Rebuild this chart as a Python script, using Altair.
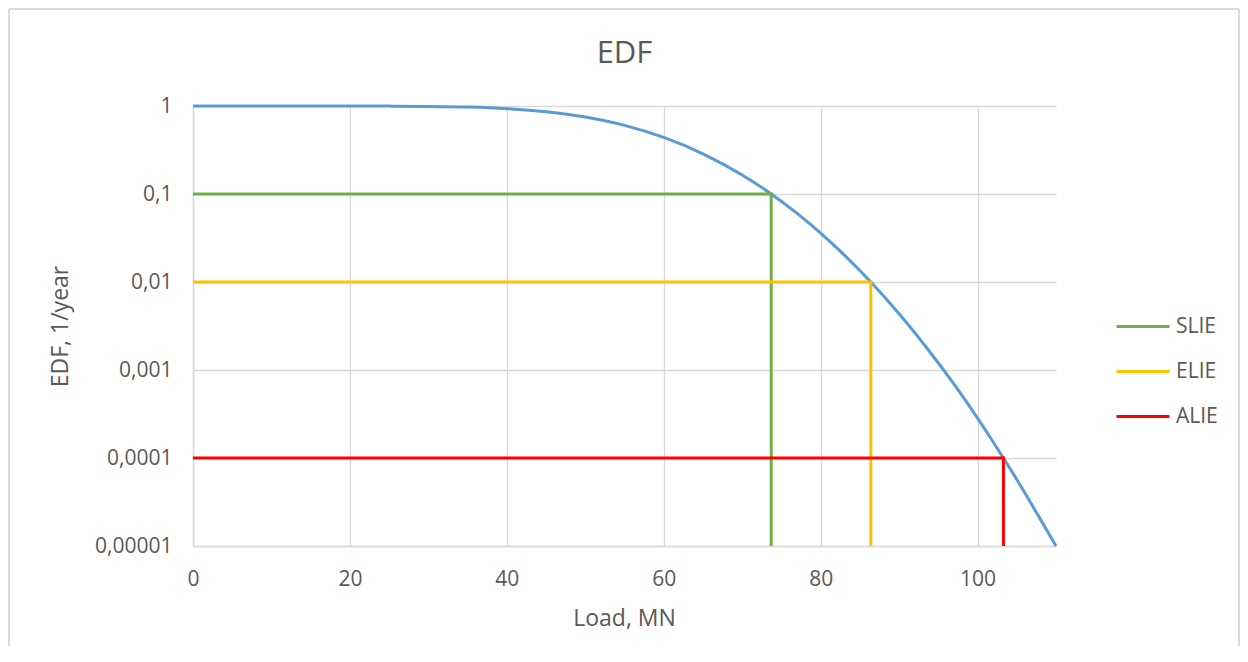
import altair as alt
import pandas as pd

# EDF curve
load = [0, 10, 20, 25, 30, 35, 40, 45, 50, 55, 60, 65, 70, 73.7, 77, 80, 83, 86.4,
        90, 92, 94, 97, 100, 101.5, 103.3, 105, 106, 108, 110]
edf = [1.0, 1.0, 0.99916, 0.99682, 0.98975, 0.97167, 0.9324, 0.86038, 0.74857, 0.60218,
       0.4392, 0.28604, 0.16429, 0.1, 0.06022, 0.03593, 0.02033, 0.01, 0.00435, 0.00265,
       0.00157, 0.00069, 0.000284, 0.000178, 0.0001, 0.000057, 0.0000405, 0.0000202,
       0.00001]

# limit levels
levels = ["SLIE", "ELIE", "ALIE"]
level_edf = [0.1, 0.01, 0.0001]
level_load = [73.7, 86.4, 103.3]
level_colors = ["#70AD47", "#FFC000", "#FF0000"]
y_floor = 0.00001

y_ticks = [1, 0.1, 0.01, 0.001, 0.0001, 0.00001]
x_ticks = [0, 20, 40, 60, 80, 100]

curve_df = pd.DataFrame({"load": load, "edf": edf})
rows = []
for name, e, l in zip(levels, level_edf, level_load):
    rows.append({"series": name, "idx": 0, "load": 0, "edf": e})
    rows.append({"series": name, "idx": 1, "load": l, "edf": e})
    rows.append({"series": name, "idx": 2, "load": l, "edf": y_floor})
lim_df = pd.DataFrame(rows)

FONT = "Open Sans"
GREY = "#595959"

xscale = alt.Scale(domain=[0, 110], nice=False, zero=False)
yscale = alt.Scale(type="log", domain=[0.00001, 1], nice=False)

xaxis = alt.Axis(values=x_ticks, format="d", title="Load, MN", grid=True,
                 labelPadding=22, labelFlush=False, titleX=431, titleY=79,
                 titleBaseline="alphabetic", titleAnchor="middle")
yaxis = alt.Axis(values=y_ticks, title="EDF, 1/year", grid=True,
                 labelExpr="replace(format(datum.value, '~g'), '.', ',')",
                 labelPadding=21, titleX=-126, titleY=220, titleAngle=-90,
                 titleBaseline="alphabetic", titleAlign="center")

curve = alt.Chart(curve_df).mark_line(
    color="#5B9BD5", strokeWidth=3, interpolate="monotone"
).encode(
    x=alt.X("load:Q", scale=xscale, axis=xaxis),
    y=alt.Y("edf:Q", scale=yscale, axis=yaxis),
)

limits = alt.Chart(lim_df).mark_line(strokeWidth=3, strokeCap="butt", strokeJoin="miter").encode(
    x=alt.X("load:Q", scale=xscale),
    y=alt.Y("edf:Q", scale=yscale),
    color=alt.Color("series:N", sort=levels,
                    scale=alt.Scale(domain=levels, range=level_colors),
                    legend=alt.Legend(title=None, orient="none", legendX=922, legendY=198,
                                      symbolType="stroke", symbolSize=2809,
                                      symbolStrokeWidth=3, clipHeight=45, rowPadding=0,
                                      labelFontSize=21, labelFont=FONT, labelColor=GREY,
                                      labelOffset=5)),
    order="idx:Q",
)

# chart frame (decoration)
frame_l = alt.Chart(curve_df).mark_rule(color="#D9D9D9", strokeWidth=2).encode(
    x=alt.value(-184), y=alt.value(-97), y2=alt.value(540))
frame_t = alt.Chart(curve_df).mark_rule(color="#D9D9D9", strokeWidth=2).encode(
    x=alt.value(-184), x2=alt.value(1046), y=alt.value(-97))
frame_r = alt.Chart(curve_df).mark_rule(color="#D9D9D9", strokeWidth=2).encode(
    x=alt.value(1046), y=alt.value(-97), y2=alt.value(540))

chart = alt.layer(curve, limits, frame_l, frame_t, frame_r).properties(
    width=863, height=440,
    title=alt.TitleParams("EDF", fontSize=31, font=FONT, color=GREY, fontWeight="normal",
                          anchor="middle", baseline="alphabetic", offset=-86, frame="group"),
    autosize=alt.AutoSizeParams(type="none"),
    padding={"left": 185, "top": 98, "right": 184, "bottom": 100},
    background="white",
).configure_axis(
    labelFont=FONT, labelFontSize=21, labelColor=GREY,
    titleFont=FONT, titleFontSize=23, titleColor=GREY, titleFontWeight="normal",
    ticks=False, domainColor="#D9D9D9", domainWidth=1.5,
    gridColor="#D9D9D9", gridWidth=1.3,
).configure_view(stroke=None)

chart.save("out.html", embed_options={"renderer": "svg", "actions": False})
